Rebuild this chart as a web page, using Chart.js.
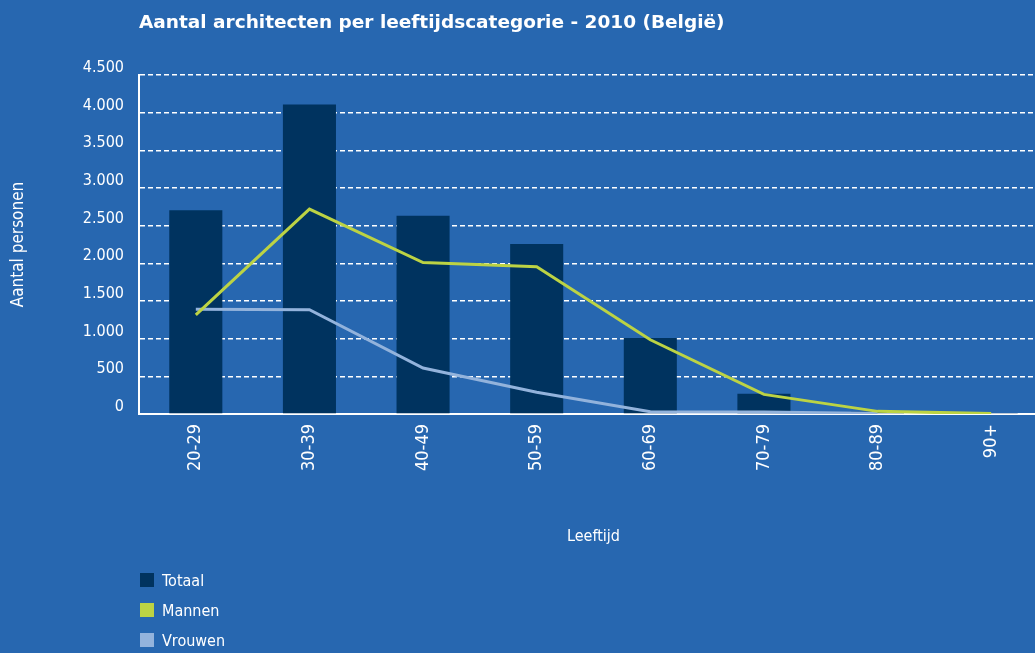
<!DOCTYPE html>
<html>

<head>
  <title>Aantal architecten per leeftijdscategorie</title>
  <script src="https://cdn.jsdelivr.net/npm/chart.js"></script>
  <style>
    html, body { margin: 0; padding: 0; background: #2767b0; overflow: hidden; }
    #wrap { position: relative; width: 1050px; height: 653px; }
    #title {
      position: absolute; left: 139px; top: 11px; color: #fff;
      font: bold 18.5px "DejaVu Sans", sans-serif;
    }
    #legend { position: absolute; left: 140px; top: 570px; color: #fff;
      font: 16px "DejaVu Sans Condensed", sans-serif; }
    #legend div { height: 30px; line-height: 22px; }
    #legend span.box { display: inline-block; width: 14px; height: 14px; margin-right: 8px; vertical-align: -1px; }
  </style>
</head>

<body>
  <div id="wrap">
    <div id="title">Aantal architecten per leeftijdscategorie - 2010 (België)</div>
    <canvas id="myChart" width="1050" height="653"></canvas>
    <div id="legend"></div>
  </div>
  <script>

    let labels = ['20-29', '30-39', '40-49', '50-59', '60-69', '70-79', '80-89', '90+'];
    let totaal = [2705, 4110, 2630, 2255, 1010, 270, 30, 5];
    let mannen = [1315, 2720, 2010, 1955, 985, 260, 35, 5];
    let vrouwen = [1390, 1385, 610, 290, 30, 25, 5, null];

    Chart.defaults.font.family = '"DejaVu Sans Condensed", sans-serif';
    Chart.defaults.color = '#ffffff';

    let ctx = document.getElementById('myChart').getContext('2d');
    let myChart = new Chart(ctx, {
      type: 'bar',
      data: {
        labels: labels,
        datasets: [{
          label: 'Totaal',
          data: totaal,
          backgroundColor: '#00335f',
          categoryPercentage: 1,
          barPercentage: 0.467,
          order: 3
        }, {
          type: 'line',
          label: 'Mannen',
          data: mannen,
          borderColor: '#bcd344',
          backgroundColor: '#bcd344',
          borderWidth: 3,
          pointRadius: 0,
          tension: 0,
          order: 1
        }, {
          type: 'line',
          label: 'Vrouwen',
          data: vrouwen,
          borderColor: '#93b3dc',
          backgroundColor: '#93b3dc',
          borderWidth: 3,
          pointRadius: 0,
          tension: 0,
          order: 2
        }]
      },
      options: {
        responsive: false,
        animation: false,
        layout: { padding: { top: 75, right: 2, bottom: 93, left: 0 } },
        plugins: {
          legend: { display: false },
          tooltip: { enabled: false }
        },
        scales: {
          x: {
            afterFit: s => { s.height = 146; },
            grid: { display: false, drawTicks: false },
            border: { color: '#ffffff', width: 2 },
            ticks: { minRotation: 90, maxRotation: 90, padding: 10, font: { size: 18 } },
            title: { display: true, text: 'Leeftijd', font: { size: 16 }, padding: { top: 4, bottom: 14 } }
          },
          y: {
            min: 0,
            max: 4500,
            afterFit: s => { s.width = 139; },
            border: { color: '#ffffff', width: 2, dash: [5, 3] },
            grid: { color: '#ffffff', lineWidth: 1.5, drawTicks: false },
            ticks: {
              stepSize: 500, padding: 15, labelOffset: -7, font: { size: 16 },
              callback: v => v.toLocaleString('nl-BE')
            },
            title: { display: true, text: 'Aantal personen', font: { size: 17 }, padding: { top: 8, bottom: 0 } }
          }
        }
      }
    });

    let legend = document.getElementById('legend');
    myChart.data.datasets.forEach(ds => {
      let row = document.createElement('div');
      row.innerHTML = '<span class="box" style="background:' + ds.backgroundColor + '"></span>' + ds.label;
      legend.appendChild(row);
    });

  </script>
</body>

</html>
